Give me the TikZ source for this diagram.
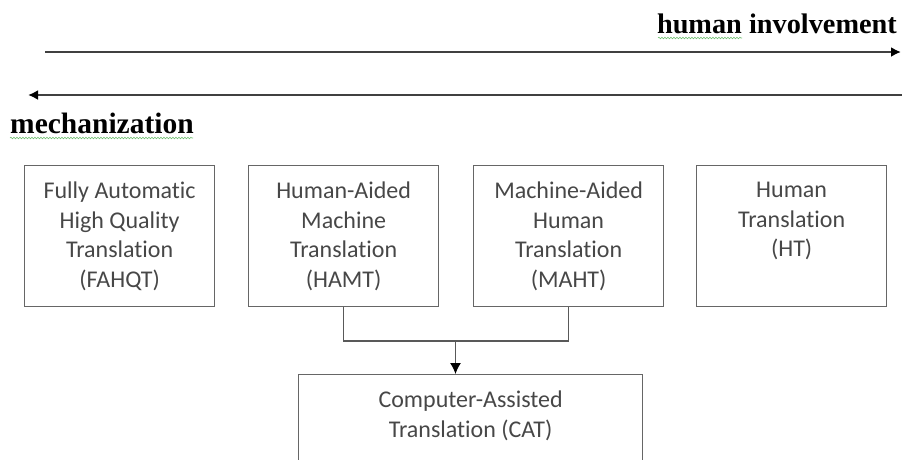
\documentclass[tikz,border=0pt]{standalone}
\usepackage{fontspec}
\setmainfont{Carlito}[Ligatures=NoCommon]
\newfontfamily\titlefont{Liberation Serif}
\usetikzlibrary{arrows.meta,decorations.pathmorphing}
\begin{document}
\begin{tikzpicture}[x=1pt,y=-1pt,
 boxstyle/.style={draw=black!60,line width=1.3pt,minimum width=190pt,minimum height=141pt,anchor=north west,inner sep=0pt},
 txt/.style={font=\fontsize{24}{29.5}\selectfont,text=black!72,align=center,anchor=north,inner sep=0pt,yshift=-17pt},
 title/.style={font=\titlefont\bfseries\fontsize{28.3}{30}\selectfont,inner sep=0pt},
 axis/.style={draw=black!75,line width=2.2pt,-{Latex[length=10pt,width=10pt,color=black]}},
 conn/.style={draw=black!65,line width=1.3pt},
 squig/.style={draw=green!55!black!55,line width=0.6pt,decorate,decoration={snake,amplitude=0.8pt,segment length=3pt}}
]
\useasboundingbox (0,0) rectangle (902,459);

% titles
\node[title,anchor=base east] (hi) at (897,33) {human involvement};
\node[title,anchor=base west,font=\titlefont\bfseries\fontsize{29.5}{31}\selectfont] (mech) at (10,133) {mechanization};
\coordinate (sq1a) at (658,38); \coordinate (sq1b) at (742,38);
\draw[squig] (sq1a) -- (sq1b);
\coordinate (sq2a) at (10,138); \coordinate (sq2b) at (193,138);
\draw[squig] (sq2a) -- (sq2b);

% axes
\coordinate (a1s) at (45,52); \coordinate (a1e) at (901,52);
\draw[axis] (a1s) -- (a1e);
\coordinate (a2s) at (902,95); \coordinate (a2e) at (28,95);
\draw[axis] (a2s) -- (a2e);

% boxes
\node[boxstyle] (fahqt) at (24,165) {};
\node[txt] (fahqtt) at (fahqt.north) {Fully Automatic\\High Quality\\Translation\\(FAHQT)};
\node[boxstyle] (hamt) at (248,165) {};
\node[txt] (hamtt) at (hamt.north) {Human-Aided\\Machine\\Translation\\(HAMT)};
\node[boxstyle] (maht) at (473,165) {};
\node[txt] (mahtt) at (maht.north) {Machine-Aided\\Human\\Translation\\(MAHT)};
\node[boxstyle] (ht) at (696,165) {};
\node[txt] (htt) at (ht.north) {Human\\Translation\\(HT)};

\node[boxstyle,minimum width=344pt,minimum height=120pt] (cat) at (298,374) {};
\node[txt] (catt) at (cat.north) {Computer-Assisted\\Translation (CAT)};

% connector
\coordinate (join) at (455.5,341);
\draw[conn] (hamt.south) |- (join) -| (maht.south);
\draw[conn,-{Latex[length=11pt,width=11pt,color=black]}] (join) -- (join |- cat.north);
\end{tikzpicture}
\end{document}
